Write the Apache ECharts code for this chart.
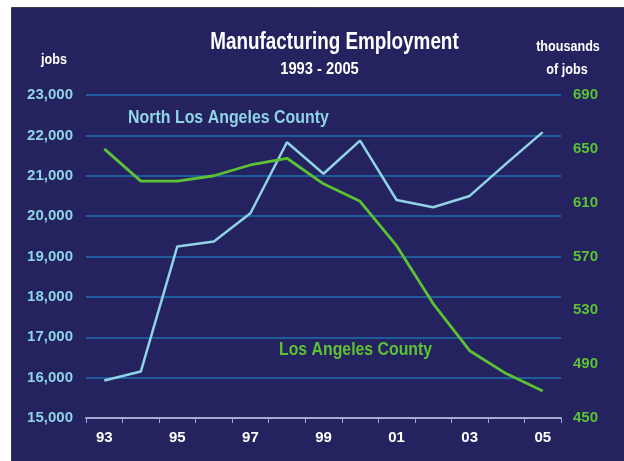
<!DOCTYPE html>
<html>
<head>
<meta charset="utf-8">
<script src="https://cdn.jsdelivr.net/npm/echarts@6/dist/echarts.min.js"></script>
<style>
  html, body { margin: 0; padding: 0; background: #ffffff; }
  #chart { width: 624px; height: 461px; }
</style>
</head>
<body>
<div id="chart"></div>
<script>
// Years along the bottom axis
const years = ['93','94','95','96','97','98','99','00','01','02','03','04','05'];
// North Los Angeles County, jobs (left axis)
const northLA = [15930, 16150, 19250, 19370, 20070, 21830, 21050, 21870, 20400, 20220, 20500, 21300, 22080];
// Los Angeles County, thousands of jobs (right axis)
const laCounty = [650, 626, 626, 630, 638, 643, 624, 611, 578, 535, 500, 483, 470];
// Right-axis tick labels
const rightTicks = [450, 490, 530, 570, 610, 650, 690];

const FONT = '"Liberation Sans", Arial, sans-serif';
const CYAN = '#8fd4e6';
const GREEN = '#5cc234';
const BG = '#24225f';

// Condensed-looking text: horizontally squeezed around its anchor point
function squeezed(x, y, text, font, fill, sx, align) {
  return {
    type: 'text', x: x, y: y, scaleX: sx, originX: 0, originY: 0,
    style: { text: text, font: font, fill: fill, align: align || 'center', verticalAlign: 'middle' }
  };
}

const chart = echarts.init(document.getElementById('chart'), null, { renderer: 'canvas' });

chart.setOption({
  backgroundColor: '#ffffff',
  animation: false,
  grid: { left: 86, right: 63, top: 95, bottom: 43, containLabel: false },
  graphic: [
    { type: 'rect', z: -10, shape: { x: 11.5, y: 7.5, width: 620, height: 460 },
      style: { fill: BG, stroke: '#3a3a4a', lineWidth: 1 } },
    squeezed(334.5, 43, 'Manufacturing Employment', 'bold 23px ' + FONT, '#ffffff', 0.82),
    squeezed(319.5, 70, '1993 - 2005', 'bold 16px ' + FONT, '#ffffff', 0.92),
    squeezed(54, 60, 'jobs', 'bold 15px ' + FONT, '#ffffff', 0.84),
    squeezed(568, 47, 'thousands', 'bold 15px ' + FONT, '#ffffff', 0.84),
    squeezed(567, 70, 'of jobs', 'bold 15px ' + FONT, '#ffffff', 0.84),
    squeezed(128, 118, 'North Los Angeles County', 'bold 18px ' + FONT, CYAN, 0.885, 'left'),
    squeezed(279, 350, 'Los Angeles County', 'bold 18px ' + FONT, GREEN, 0.88, 'left')
  ],
  xAxis: {
    type: 'category',
    data: years,
    boundaryGap: true,
    axisLine: { lineStyle: { color: '#a9a7d2', width: 2 } },
    axisTick: { show: true, interval: 0, length: 5, lineStyle: { color: '#a9a7d2', width: 1 } },
    axisLabel: { interval: 1, color: '#ffffff', fontFamily: FONT, fontWeight: 'bold', fontSize: 15, margin: 12 },
    splitLine: { show: false }
  },
  yAxis: [
    {
      type: 'value', min: 15000, max: 23000, interval: 1000, position: 'left',
      axisLine: { show: false }, axisTick: { show: false },
      axisLabel: {
        color: CYAN, fontFamily: FONT, fontWeight: 'bold', fontSize: 15, margin: 13,
        formatter: v => v.toLocaleString('en-US')
      },
      splitLine: { lineStyle: { color: '#1f5c9c', width: 2 } }
    },
    {
      type: 'value', min: 450, max: 690, interval: 10, position: 'right',
      axisLine: { show: false }, axisTick: { show: false },
      splitLine: { show: false },
      axisLabel: {
        color: GREEN, fontFamily: FONT, fontWeight: 'bold', fontSize: 15, margin: 12,
        formatter: v => rightTicks.includes(v) ? String(v) : ''
      }
    }
  ],
  series: [
    {
      name: 'North Los Angeles County', type: 'line', yAxisIndex: 0, data: northLA,
      symbol: 'none', lineStyle: { color: CYAN, width: 2.5 }
    },
    {
      name: 'Los Angeles County', type: 'line', yAxisIndex: 1, data: laCounty,
      symbol: 'none', lineStyle: { color: GREEN, width: 2.8 }
    }
  ]
});
</script>
</body>
</html>
